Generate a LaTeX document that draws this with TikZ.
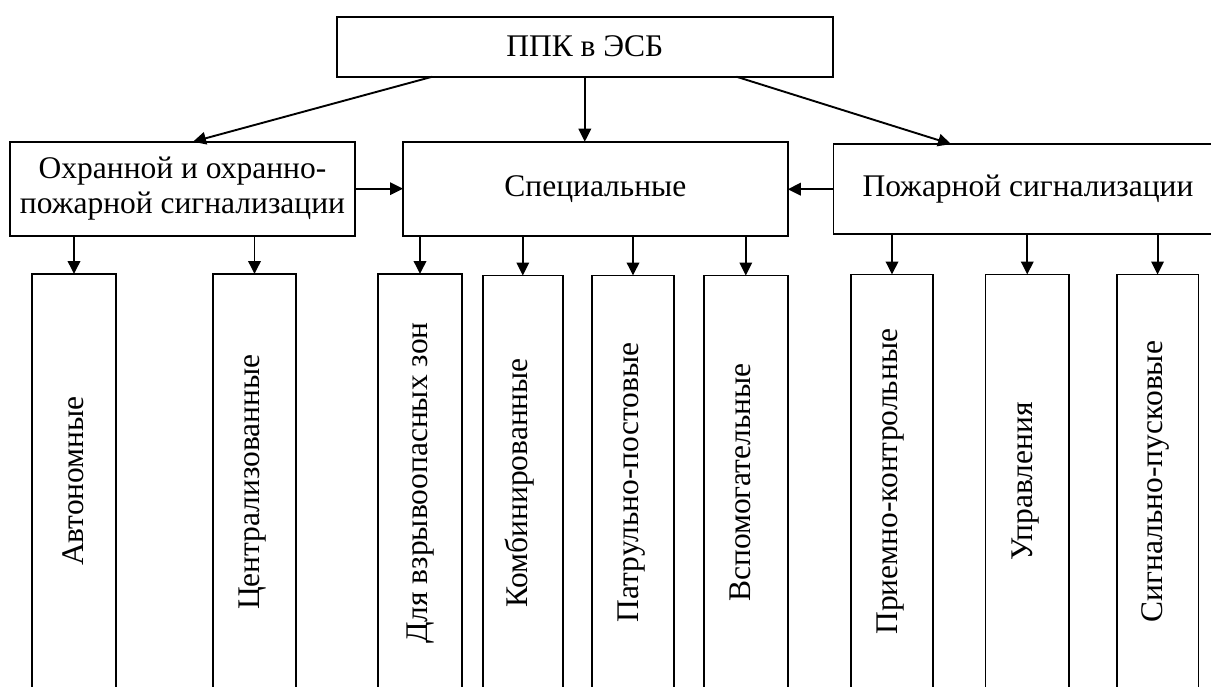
\documentclass[tikz,border=0pt]{standalone}
\usepackage{fontspec}
\setmainfont{Liberation Serif}
\usetikzlibrary{arrows.meta}
\begin{document}
\begin{tikzpicture}[x=1pt,y=-1pt,
  box/.style={draw, line width=1.9pt, inner sep=0pt, outer sep=0pt},
  txt/.style={font=\fontsize{31.5}{35}\selectfont},
  vtxt/.style={txt, rotate=90, anchor=base, inner sep=0pt},
  arr/.style={line width=1.9pt, -{Triangle[length=13pt,width=12.5pt]}}]
\useasboundingbox (0,0) rectangle (1211,686);
\clip (0,0) rectangle (1211,686);
% level 1
\node[box,txt,minimum width=496.4,minimum height=60] (top) at (584.8,46.7) {ППК в ЭСБ};
% level 2
\node[box,txt,align=center,minimum width=345,minimum height=94] (ohr) at (182.5,188.7) {Охранной и охранно-\\пожарной сигнализации};
\node[box,txt,minimum width=384.8,minimum height=94] (spec) at (595.4,188.7) {Специальные};
\node[box,minimum width=388.5,minimum height=90.3] (fire) at (1027.75,189.2) {};
\node[txt,inner sep=0pt] (firet) at (1028,189.2) {Пожарной сигнализации};
% level 3
\node[box,minimum width=83.4,minimum height=416] (b1) at (74,482) {};
\node[box,minimum width=82.4,minimum height=416] (b2) at (254.5,482) {};
\node[box,minimum width=84,minimum height=416] (b3) at (420,482) {};
\node[box,minimum width=80.4,minimum height=416] (b4) at (522.8,483.5) {};
\node[box,minimum width=82,minimum height=416] (b5) at (633,483.5) {};
\node[box,minimum width=83.6,minimum height=416] (b6) at (745.8,483.5) {};
\node[box,minimum width=82,minimum height=416] (b7) at (892,482.5) {};
\node[box,minimum width=83.5,minimum height=416] (b8) at (1027.25,482.5) {};
\node[box,minimum width=81.9,minimum height=416] (b9) at (1157.55,482.5) {};
\node[vtxt] (t1) at ([xshift=9pt]b1.center |- 0,481) {Автономные};
\node[vtxt] (t2) at ([xshift=5pt]b2.center |- 0,482) {Централизованные};
\node[vtxt] (t3) at ([xshift=7pt]b3.center |- 0,483) {Для взрывоопасных зон};
\node[vtxt] (t4) at ([xshift=5pt]b4.center |- 0,483) {Комбинированные};
\node[vtxt] (t5) at ([xshift=5pt]b5.center |- 0,482.5) {Патрульно-постовые};
\node[vtxt] (t6) at ([xshift=5pt]b6.center |- 0,482.5) {Вспомогательные};
\node[vtxt] (t7) at ([xshift=5pt]b7.center |- 0,481.7) {Приемно-контрольные};
\node[vtxt] (t8) at ([xshift=5pt]b8.center |- 0,481.7) {Управления};
\node[vtxt] (t9) at ([xshift=5pt]b9.center |- 0,481.5) {Сигнально-пусковые};
% connectors level 1 -> 2
\draw[arr] ([xshift=95.8pt]top.south west) -- ([xshift=183pt]ohr.north west);
\draw[arr] (top.south) -- (top.south |- spec.north);
\draw[arr] ([xshift=399.8pt]top.south west) -- ([xshift=117.5pt]fire.north west);
\draw[arr] (ohr.east) -- (ohr.east -| spec.west);
\draw[arr] (fire.west) -- (fire.west -| spec.east);
% connectors level 2 -> 3
\draw[arr] (ohr.south -| b1.north) -- (b1.north);
\draw[arr] (ohr.south -| b2.north) -- (b2.north);
\draw[arr] (spec.south -| b3.north) -- (b3.north);
\draw[arr] (spec.south -| b4.north) -- (b4.north);
\draw[arr] (spec.south -| b5.north) -- (b5.north);
\draw[arr] (spec.south -| b6.north) -- (b6.north);
\draw[arr] (fire.south -| b7.north) -- (b7.north);
\draw[arr] (fire.south -| b8.north) -- (b8.north);
\draw[arr] (fire.south -| b9.north) -- (b9.north);
\end{tikzpicture}
\end{document}
